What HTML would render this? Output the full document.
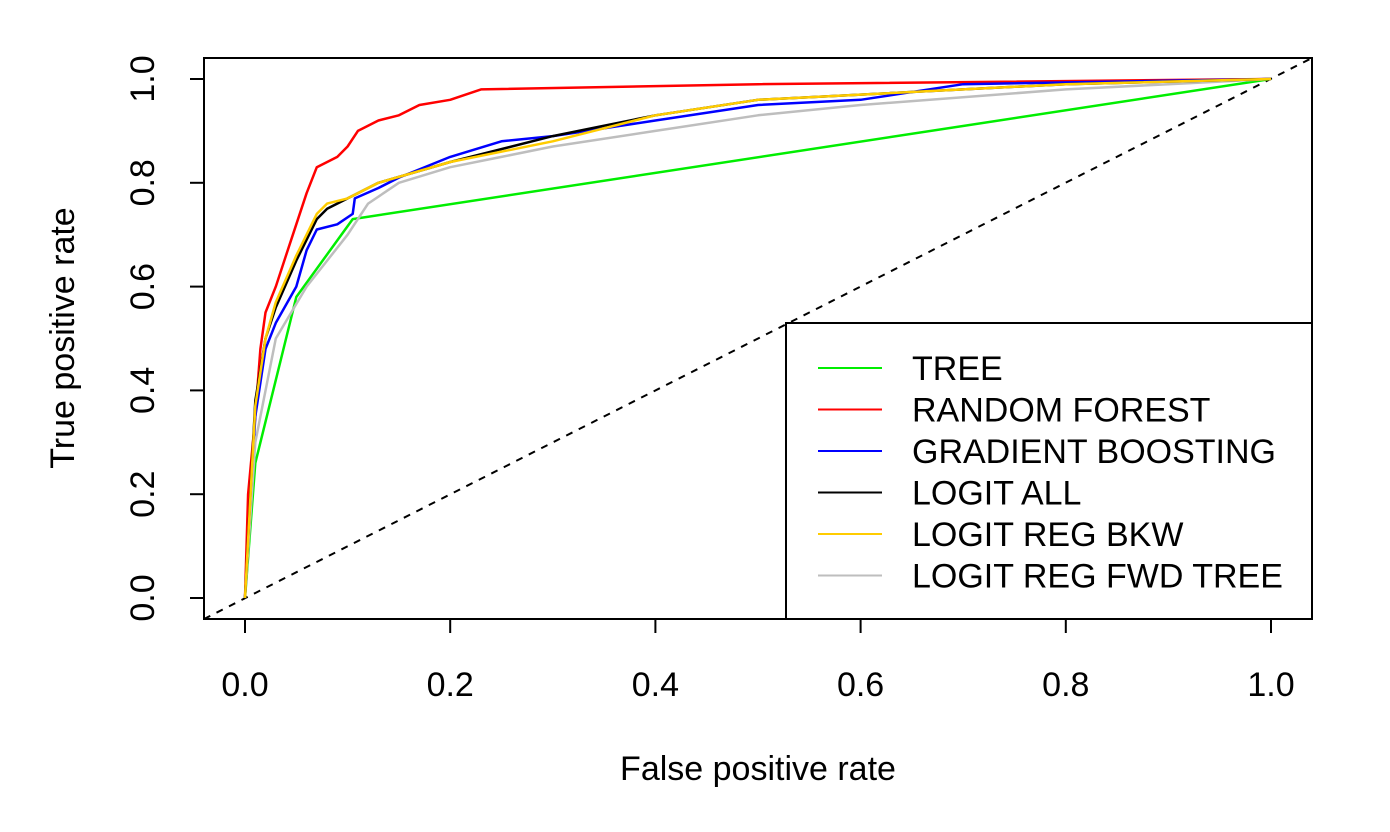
<!DOCTYPE html>
<html><head><meta charset="utf-8"><style>
html,body{margin:0;padding:0;background:#fff;}
svg{display:block;font-family:"Liberation Sans",Arial,sans-serif;}
</style></head><body>
<svg id="chart" width="1390" height="832" viewBox="0 0 1390 832" xmlns="http://www.w3.org/2000/svg">
<rect x="204" y="58" width="1108" height="561" fill="none" stroke="#000" stroke-width="2"/>
<g id="xaxis"></g>
<g id="yaxis"></g>
<text x="758" y="780" font-size="34" text-anchor="middle">False positive rate</text>
<text transform="translate(74,338) rotate(-90)" font-size="34" text-anchor="middle">True positive rate</text>
<line x1="204" y1="619" x2="1312" y2="58" stroke="#000" stroke-width="2" stroke-dasharray="7,7"/>
<g id="series"></g>
<g id="legend">
<rect x="786" y="323" width="526" height="296" fill="#fff" stroke="#000" stroke-width="2"/>
</g>
</svg>
<script>
const xTicks=[0,0.2,0.4,0.6,0.8,1.0];
const yTicks=[0,0.2,0.4,0.6,0.8,1.0];
const seriesNames=["TREE","RANDOM FOREST","GRADIENT BOOSTING","LOGIT ALL","LOGIT REG BKW","LOGIT REG FWD TREE"];
const seriesColors=["#00ee00","#ff0000","#0000ff","#000000","#ffcc00","#bebebe"];
const treeFpr=[0,0.01,0.05,0.105,1];
const treeTpr=[0,0.26,0.58,0.73,1];
const rfFpr=[0,0.003,0.01,0.015,0.02,0.03,0.04,0.05,0.06,0.07,0.09,0.1,0.11,0.13,0.15,0.17,0.2,0.23,0.5,1];
const rfTpr=[0,0.2,0.35,0.48,0.55,0.6,0.66,0.72,0.78,0.83,0.85,0.87,0.9,0.92,0.93,0.95,0.96,0.98,0.99,1];
const gbFpr=[0,0.01,0.02,0.03,0.05,0.06,0.07,0.09,0.105,0.107,0.13,0.15,0.2,0.25,0.3,0.4,0.5,0.6,0.7,1];
const gbTpr=[0,0.35,0.48,0.53,0.6,0.67,0.71,0.72,0.74,0.77,0.79,0.81,0.85,0.88,0.89,0.92,0.95,0.96,0.99,1];
const laFpr=[0,0.01,0.02,0.03,0.05,0.07,0.08,0.1,0.13,0.2,0.3,0.4,0.5,0.6,0.7,0.8,1];
const laTpr=[0,0.38,0.5,0.56,0.65,0.73,0.75,0.77,0.8,0.84,0.89,0.93,0.96,0.97,0.98,0.99,1];
const bkFpr=[0,0.01,0.02,0.03,0.05,0.07,0.08,0.1,0.13,0.2,0.3,0.4,0.5,0.6,0.7,0.8,1];
const bkTpr=[0,0.37,0.5,0.57,0.66,0.74,0.76,0.77,0.8,0.84,0.88,0.93,0.96,0.97,0.98,0.99,1];
const fwFpr=[0,0.01,0.03,0.06,0.1,0.12,0.15,0.2,0.25,0.3,0.4,0.5,0.6,0.8,0.9,1];
const fwTpr=[0,0.3,0.5,0.6,0.7,0.76,0.8,0.83,0.85,0.87,0.9,0.93,0.95,0.98,0.99,1];
const allFpr=[treeFpr,rfFpr,gbFpr,laFpr,bkFpr,fwFpr];
const allTpr=[treeTpr,rfTpr,gbTpr,laTpr,bkTpr,fwTpr];
const seriesKeys=["tree","random-forest","gradient-boosting","logit-all","logit-reg-bkw","logit-reg-fwd-tree"];
const NS="http://www.w3.org/2000/svg";
function sx(v){return 245+v*1026;}
function sy(v){return 598-v*519;}
function mk(t,a,p){const e=document.createElementNS(NS,t);for(const k in a)e.setAttribute(k,a[k]);p.appendChild(e);return e;}
const xa=document.getElementById('xaxis');
mk('line',{x1:sx(0),x2:sx(1),y1:619,y2:619,stroke:'#000','stroke-width':2},xa);
xTicks.forEach(t=>{
 const l=mk('line',{x1:sx(t),x2:sx(t),y1:619,y2:633,stroke:'#000','stroke-width':2},xa);
 
 
 const tx=mk('text',{x:sx(t),y:696,'font-size':34,'text-anchor':'middle'},xa);
 tx.textContent=t.toFixed(1);
 
 
});
const ya=document.getElementById('yaxis');
yTicks.forEach(t=>{
 const l=mk('line',{x1:190,x2:204,y1:sy(t),y2:sy(t),stroke:'#000','stroke-width':2},ya);
 
 
 const tx=mk('text',{transform:`translate(154,${sy(t)}) rotate(-90)`,'font-size':34,'text-anchor':'middle'},ya);
 tx.textContent=t.toFixed(1);
 
 
});
const sg=document.getElementById('series');
[0,1,2,5,3,4].forEach(i=>{
 const pts=allFpr[i].map((f,j)=>sx(f).toFixed(1)+','+sy(allTpr[i][j]).toFixed(1)).join(' ');
 const p=mk('polyline',{points:pts,fill:'none',stroke:seriesColors[i],'stroke-width':2.5,'stroke-linejoin':'round'},sg);
 
 
});
const lg=document.getElementById('legend');
seriesNames.forEach((n,i)=>{
 const y=368+i*41.5;
 const l=mk('line',{x1:818,x2:882,y1:y,y2:y,stroke:seriesColors[i],'stroke-width':2},lg);
 
 
 const t=mk('text',{x:912,y:y+12,'font-size':34},lg);
 t.textContent=n;
 
 
});
</script>
</body></html>
